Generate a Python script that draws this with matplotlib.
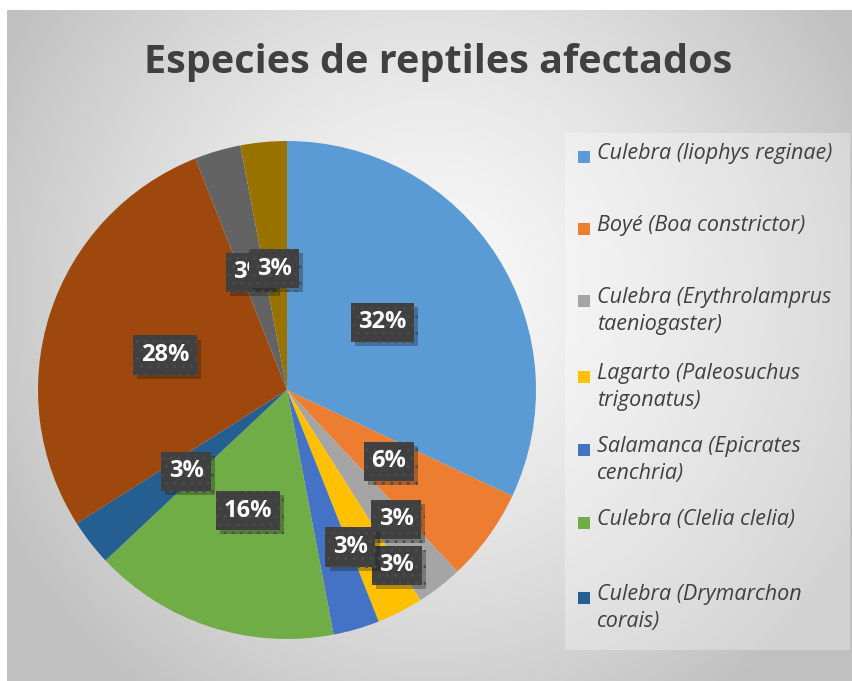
"""
Pie chart: especies de reptiles afectados
"""
import numpy as np
import matplotlib
matplotlib.use("Agg")
import matplotlib.pyplot as plt
import matplotlib.patheffects as pe
from matplotlib.patches import Rectangle

SPECIES = [
    "Culebra (liophys reginae)",
    "Boyé (Boa constrictor)",
    "Culebra (Erythrolamprus\ntaeniogaster)",
    "Lagarto (Paleosuchus\ntrigonatus)",
    "Salamanca (Epicrates\ncenchria)",
    "Culebra (Clelia clelia)",
    "Culebra (Drymarchon\ncorais)",
    "Especie 8",
    "Especie 9",
    "Especie 10",
]
PERCENTS = [32, 6, 3, 3, 3, 16, 3, 28, 3, 3]
LABELS = ["32%", "6%", "3%", "3%", "3%", "16%", "3%", "28%", "3%", "3%"]
COLORS = ["#5B9BD5", "#ED7D31", "#A5A5A5", "#FFC000", "#4472C4",
          "#70AD47", "#255E91", "#9E480E", "#636363", "#997300"]
LEGEND_SHOWN = 7

# label placement tweaks (Excel nudged the small ones), clockwise degrees
LABEL_DIST = [0.47, 0.50, 0.68, 0.83, 0.68, 0.51, 0.52, 0.51, 0.495, 0.49]
LABEL_SHIFT = [-3, -1, -2.4, -5, -5.8, 0, -1, -2, -0.8, -0.7]

W, H = 853, 681
fig = plt.figure(figsize=(W / 100, H / 100), dpi=100)
fig.patch.set_facecolor("white")

# chart area background with radial gradient
bg = fig.add_axes([7 / W, 0, 1 - 7 / W, (H - 10) / H])
yy, xx = np.mgrid[0:1:300j, 0:1:380j]
dist = np.sqrt(((xx - 0.5) * 1.3) ** 2 + ((yy - 0.42) * 1.0) ** 2)
shade = 0.975 - 0.22 * np.clip(dist / 0.75, 0, 1) ** 1.4
bg.imshow(np.dstack([shade] * 3), extent=[0, 1, 0, 1], aspect="auto",
          interpolation="bilinear")
bg.axis("off")

# pie
cx, cy, r = 287, 390, 249
ax = fig.add_axes([(cx - r) / W, (H - cy - r) / H, 2 * r / W, 2 * r / H])
wedges, _ = ax.pie(PERCENTS, colors=COLORS, startangle=90, counterclock=False,
                   radius=1, wedgeprops=dict(linewidth=0))
ax.set_xlim(-1, 1)
ax.set_ylim(-1, 1)
ax.set_aspect("auto")
ax.axis("off")

for w, lab, d, s in zip(wedges, LABELS, LABEL_DIST, LABEL_SHIFT):
    ang = np.deg2rad((w.theta1 + w.theta2) / 2 - s)
    x, y = d * np.cos(ang), d * np.sin(ang)
    t = ax.text(x, y, lab, ha="center", va="center", fontsize=17,
                fontweight="bold", family="Open Sans", color="white",
                bbox=dict(boxstyle="square,pad=0.32", fc="#404040", ec="#4b4b4b",
                          lw=0, hatch=".."))
    t.get_bbox_patch().set_path_effects(
        [pe.SimplePatchShadow(offset=(3, -3), alpha=0.3), pe.Normal()])

# title
fig.text(438 / W, 1 - 62 / H, "Especies de reptiles afectados", ha="center",
         va="center", fontsize=28.5, fontweight="bold", family="Open Sans",
         color="#404040")

# legend panel
fig.patches.append(Rectangle((565 / W, 1 - 650 / H), 285 / W, 517 / H,
                             transform=fig.transFigure, fc="white", alpha=0.3,
                             ec="none"))
entry_y = [157, 229, 301, 377, 450, 523, 598]
for name, col, ey in zip(SPECIES[:LEGEND_SHOWN], COLORS, entry_y):
    fig.patches.append(Rectangle((578 / W, 1 - (ey + 6) / H), 12 / W, 12 / H,
                                 transform=fig.transFigure, fc=col, ec="none"))
    fig.text(597 / W, 1 - (ey - 14) / H, name, ha="left", va="top",
             fontsize=15.5, style="italic", family="Open Sans",
             color="#404040", linespacing=1.4)

fig.savefig("out.png", dpi=100)
